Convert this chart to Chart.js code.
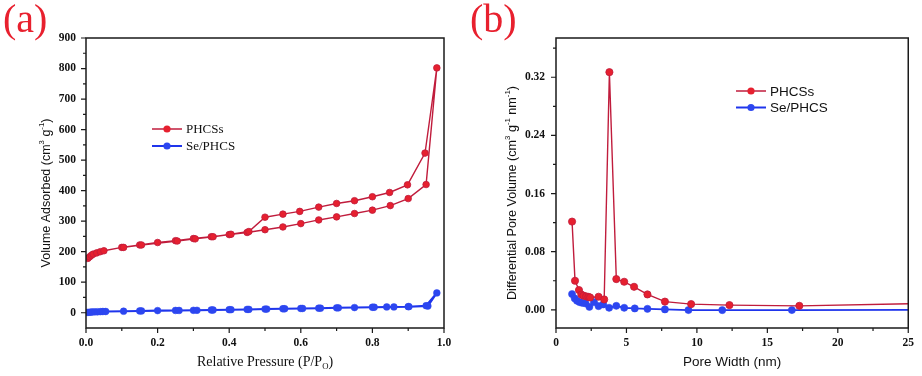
<!DOCTYPE html>
<html>
<head>
<meta charset="utf-8">
<script src="https://cdn.jsdelivr.net/npm/chart.js@4.4.1/dist/chart.umd.min.js"></script>
<style>
  html, body { margin: 0; padding: 0; background: #fff; }
  #wrap { position: relative; width: 922px; height: 376px; overflow: hidden; }
  .panel { position: absolute; top: 0; height: 376px; }
  #panelA { left: 0; width: 460px; }
  #panelB { left: 460px; width: 462px; }
</style>
</head>
<body>
<div id="wrap">
  <div class="panel" id="panelA"><canvas id="chartA"></canvas></div>
  <div class="panel" id="panelB"><canvas id="chartB"></canvas></div>
</div>
<script>
// ---- (a) N2 adsorption / desorption isotherms ----
const pressurePHCS = [0.005, 0.01, 0.015, 0.02, 0.03, 0.04, 0.05, 0.1, 0.15, 0.2, 0.25, 0.3, 0.35, 0.4, 0.45,
  0.5, 0.55, 0.6, 0.65, 0.7, 0.75, 0.8, 0.85, 0.9, 0.95, 0.98,
  0.947, 0.898, 0.848, 0.8, 0.75, 0.7, 0.65, 0.597, 0.55, 0.5, 0.455, 0.405, 0.355, 0.305, 0.255, 0.155, 0.105];
const volumePHCS = [178, 183, 188, 192, 196, 200, 203, 214, 222, 230, 236, 243, 249, 256, 263,
  272, 281, 292, 304, 314, 325, 336, 351, 374, 420, 802,
  523, 419, 394, 380, 367, 358, 346, 332, 323, 313, 266, 257, 249, 242, 235, 222, 214];

const pressureSe = [0.003, 0.008, 0.013, 0.018, 0.025, 0.032, 0.04, 0.047, 0.055, 0.105, 0.15, 0.2, 0.25, 0.3,
  0.35, 0.4, 0.45, 0.5, 0.55, 0.6, 0.65, 0.7, 0.75, 0.8, 0.84, 0.9, 0.95, 0.98,
  0.955, 0.902, 0.86, 0.805, 0.705, 0.655, 0.605, 0.555, 0.505, 0.455, 0.405, 0.355, 0.31, 0.26, 0.155];
const volumeSe = [1, 1.5, 2, 2.5, 3, 3, 3.5, 4, 4, 5, 6, 7, 7.5, 8,
  9, 10, 11, 12, 13, 14, 15, 16, 17, 18, 19, 20, 23, 65,
  22, 20, 19, 18, 16, 15, 14, 13, 12, 11, 10, 9, 8, 7.5, 6];

// ---- (b) pore size distribution ----
const widthPHCS = [1.14, 1.35, 1.63, 1.8, 1.95, 2.14, 2.3, 2.42, 3.02, 3.42, 3.79, 4.28, 4.84, 5.54, 6.49, 7.73,
  9.59, 12.31, 17.27, 26];
const dvPHCS = [0.1214, 0.040, 0.0272, 0.021, 0.0195, 0.0185, 0.0178, 0.017, 0.018, 0.0143, 0.327, 0.0423,
  0.0386, 0.0317, 0.0212, 0.0113, 0.0079, 0.0065, 0.0055, 0.0086];

const widthSe = [1.14, 1.33, 1.49, 1.68, 1.86, 2.09, 2.37, 2.7, 3.02, 3.35, 3.77, 4.28, 4.84, 5.59, 6.49, 7.73,
  9.4, 11.8, 16.74, 26];
const dvSe = [0.0217, 0.0157, 0.0124, 0.0106, 0.0097, 0.0088, 0.0041, 0.0106, 0.0051, 0.0074, 0.0028, 0.0055,
  0.0028, 0.0019, 0.0014, 0.0006, -0.0003, -0.0004, -0.0003, 0.0];

const seriesNames = ['PHCSs', 'Se/PHCS'];

// tick labels
const xTicksA = [0, 0.2, 0.4, 0.6, 0.8, 1.0];
const yTicksA = [0, 100, 200, 300, 400, 500, 600, 700, 800, 900];
const xTicksB = [0, 5, 10, 15, 20, 25];
const yTicksB = [0, 0.08, 0.16, 0.24, 0.32];

const serif = "'Liberation Serif', 'Times New Roman', serif";
const sans = "'Liberation Sans', Arial, sans-serif";
const red = '#e6202f', redLine = '#c01c3c';
const blue = '#2c46f0', blueLine = '#1f35ec';

function pts(xs, ys) {
  return xs.map((x, i) => ({ x: x, y: ys[i] }));
}

function minors(majors) {
  const step = majors[1] - majors[0];
  const out = [majors[0] - step / 2];
  majors.forEach(v => out.push(v + step / 2));
  return out;
}

// text with sub/superscript pieces, centred on (x, y)
function drawRich(ctx, parts, size, family, x, y, rotate) {
  ctx.save();
  ctx.translate(x, y);
  if (rotate) ctx.rotate(-Math.PI / 2);
  const fontOf = p => (p.sup || p.sub ? size * 0.62 : size) + 'px ' + family;
  let total = 0;
  const widths = parts.map(p => {
    ctx.font = fontOf(p);
    const w = ctx.measureText(p.t).width;
    total += w;
    return w;
  });
  let cx = -total / 2;
  ctx.textAlign = 'left';
  ctx.textBaseline = 'middle';
  ctx.fillStyle = '#111';
  parts.forEach((p, i) => {
    ctx.font = fontOf(p);
    const dy = p.sup ? -size * 0.38 : (p.sub ? size * 0.32 : 0);
    ctx.fillText(p.t, cx, dy);
    cx += widths[i];
  });
  ctx.restore();
}

function makeFrame(cfg) {
  return {
    id: 'frame',
    afterDraw(chart) {
      const ctx = chart.ctx;
      const a = chart.chartArea;
      const xs = chart.scales.x, ys = chart.scales.y;
      ctx.save();
      ctx.strokeStyle = '#1a1a1a';
      ctx.lineWidth = 1.5;
      ctx.strokeRect(a.left, a.top, a.right - a.left, a.bottom - a.top);

      // tick marks, outward
      ctx.lineWidth = 1.2;
      ctx.beginPath();
      cfg.xMajor.forEach(v => { const p = xs.getPixelForValue(v); ctx.moveTo(p, a.bottom); ctx.lineTo(p, a.bottom + 5); });
      minors(cfg.xMajor).forEach(v => {
        if (v <= xs.min || v >= xs.max) return;
        const p = xs.getPixelForValue(v); ctx.moveTo(p, a.bottom); ctx.lineTo(p, a.bottom + 3);
      });
      cfg.yMajor.forEach(v => { const p = ys.getPixelForValue(v); ctx.moveTo(a.left, p); ctx.lineTo(a.left - 5, p); });
      minors(cfg.yMajor).forEach(v => {
        if (v <= ys.min || v >= ys.max) return;
        const p = ys.getPixelForValue(v); ctx.moveTo(a.left, p); ctx.lineTo(a.left - 3, p);
      });
      ctx.stroke();

      // legend inside the plot
      const colors = [[red, redLine], [blue, blueLine]];
      seriesNames.forEach((name, i) => {
        const lx = a.left + cfg.legend.dx;
        const ly = a.top + cfg.legend.dy + i * cfg.legend.gap;
        ctx.strokeStyle = colors[i][1];
        ctx.lineWidth = i === 0 ? 1.5 : 2;
        ctx.beginPath(); ctx.moveTo(lx, ly); ctx.lineTo(lx + 30, ly); ctx.stroke();
        ctx.fillStyle = colors[i][0];
        ctx.beginPath(); ctx.arc(lx + 15, ly, 3.6, 0, Math.PI * 2); ctx.fill();
        ctx.fillStyle = '#111';
        ctx.font = cfg.legend.font;
        ctx.textAlign = 'left';
        ctx.textBaseline = 'middle';
        ctx.fillText(name, lx + 34, ly + 1);
      });

      // axis titles
      const cxm = (a.left + a.right) / 2;
      drawRich(ctx, cfg.xTitle, cfg.xTitleSize, cfg.xTitleFont, cxm, 362, false);
      drawRich(ctx, cfg.yTitle, cfg.yTitleSize, cfg.yTitleFont, cfg.yTitleX, 193, true);

      // panel tag
      ctx.fillStyle = '#e8202e';
      ctx.font = '40px ' + serif;
      ctx.textAlign = 'left';
      ctx.textBaseline = 'alphabetic';
      ctx.fillText(cfg.tag, cfg.tagX, 32);
      ctx.restore();
    }
  };
}

function baseScale(ticksArr, extra) {
  return Object.assign({
    type: 'linear',
    grid: { display: false, drawTicks: false },
    border: { display: false },
    afterBuildTicks: s => { s.ticks = ticksArr.map(v => ({ value: v })); },
  }, extra);
}

const tickFont = { family: serif, size: 11.5, weight: 'bold' };

new Chart(document.getElementById('chartA'), {
  type: 'scatter',
  data: {
    datasets: [
      {
        label: seriesNames[0],
        data: pts(pressurePHCS, volumePHCS),
        showLine: true,
        borderColor: redLine,
        borderWidth: 1.4,
        pointRadius: 3.3,
        pointBackgroundColor: red,
        pointBorderColor: redLine,
        pointBorderWidth: 0.8
      },
      {
        label: seriesNames[1],
        data: pts(pressureSe, volumeSe),
        showLine: true,
        borderColor: blueLine,
        borderWidth: 2,
        pointRadius: 3.4,
        pointBackgroundColor: blue,
        pointBorderColor: blue,
        pointBorderWidth: 0.5
      }
    ]
  },
  options: {
    responsive: true,
    maintainAspectRatio: false,
    animation: false,
    layout: { padding: { left: 0, right: 16, top: 38, bottom: 0 } },
    plugins: { legend: { display: false }, tooltip: { enabled: false } },
    scales: {
      x: baseScale(xTicksA, {
        min: 0, max: 1,
        afterFit: s => { s.height = 48; },
        ticks: { autoSkip: false, maxRotation: 0, padding: 8, color: '#111', font: tickFont,
          callback: v => Number(v).toFixed(1) }
      }),
      y: baseScale(yTicksA, {
        min: -50, max: 900,
        afterFit: s => { s.width = 86; },
        ticks: { autoSkip: false, padding: 10, color: '#111', font: tickFont,
          callback: v => String(v) }
      })
    }
  },
  plugins: [makeFrame({
    tag: '(a)', tagX: 3,
    xMajor: xTicksA, yMajor: yTicksA,
    legend: { dx: 66, dy: 91, gap: 17, font: '13px ' + serif },
    xTitle: [{ t: 'Relative Pressure (P/P' }, { t: 'O', sub: true }, { t: ')' }],
    xTitleSize: 14, xTitleFont: serif,
    yTitle: [{ t: 'Volume Adsorbed (cm' }, { t: '3', sup: true }, { t: ' g' }, { t: '-1', sup: true }, { t: ')' }],
    yTitleSize: 12.5, yTitleFont: sans, yTitleX: 47
  })]
});

new Chart(document.getElementById('chartB'), {
  type: 'scatter',
  data: {
    datasets: [
      {
        label: seriesNames[0],
        data: pts(widthPHCS, dvPHCS),
        showLine: true,
        borderColor: redLine,
        borderWidth: 1.4,
        pointRadius: 3.6,
        pointBackgroundColor: red,
        pointBorderColor: redLine,
        pointBorderWidth: 0.8
      },
      {
        label: seriesNames[1],
        data: pts(widthSe, dvSe),
        showLine: true,
        borderColor: blueLine,
        borderWidth: 1.8,
        pointRadius: 3.6,
        pointBackgroundColor: blue,
        pointBorderColor: blue,
        pointBorderWidth: 0.5
      }
    ]
  },
  options: {
    responsive: true,
    maintainAspectRatio: false,
    animation: false,
    layout: { padding: { left: 0, right: 8, top: 38, bottom: 0 } },
    plugins: { legend: { display: false }, tooltip: { enabled: false } },
    scales: {
      x: baseScale(xTicksB, {
        min: 0, max: 25,
        afterFit: s => { s.height = 48; },
        ticks: { autoSkip: false, maxRotation: 0, padding: 8, color: '#111', font: tickFont,
          callback: v => String(v) }
      }),
      y: baseScale(yTicksB, {
        min: -0.025, max: 0.374,
        afterFit: s => { s.width = 96; },
        ticks: { autoSkip: false, padding: 11, color: '#111', font: tickFont,
          callback: v => Number(v).toFixed(2) }
      })
    }
  },
  plugins: [makeFrame({
    tag: '(b)', tagX: 10,
    xMajor: xTicksB, yMajor: yTicksB,
    legend: { dx: 180, dy: 53, gap: 16.5, font: '13.5px ' + sans },
    xTitle: [{ t: 'Pore Width (nm)' }],
    xTitleSize: 13.5, xTitleFont: sans,
    yTitle: [{ t: 'Differential Pore Volume (cm' }, { t: '3', sup: true }, { t: ' g' }, { t: '-1', sup: true },
      { t: ' nm' }, { t: '-1', sup: true }, { t: ')' }],
    yTitleSize: 12.6, yTitleFont: sans, yTitleX: 53
  })]
});
</script>
</body>
</html>
